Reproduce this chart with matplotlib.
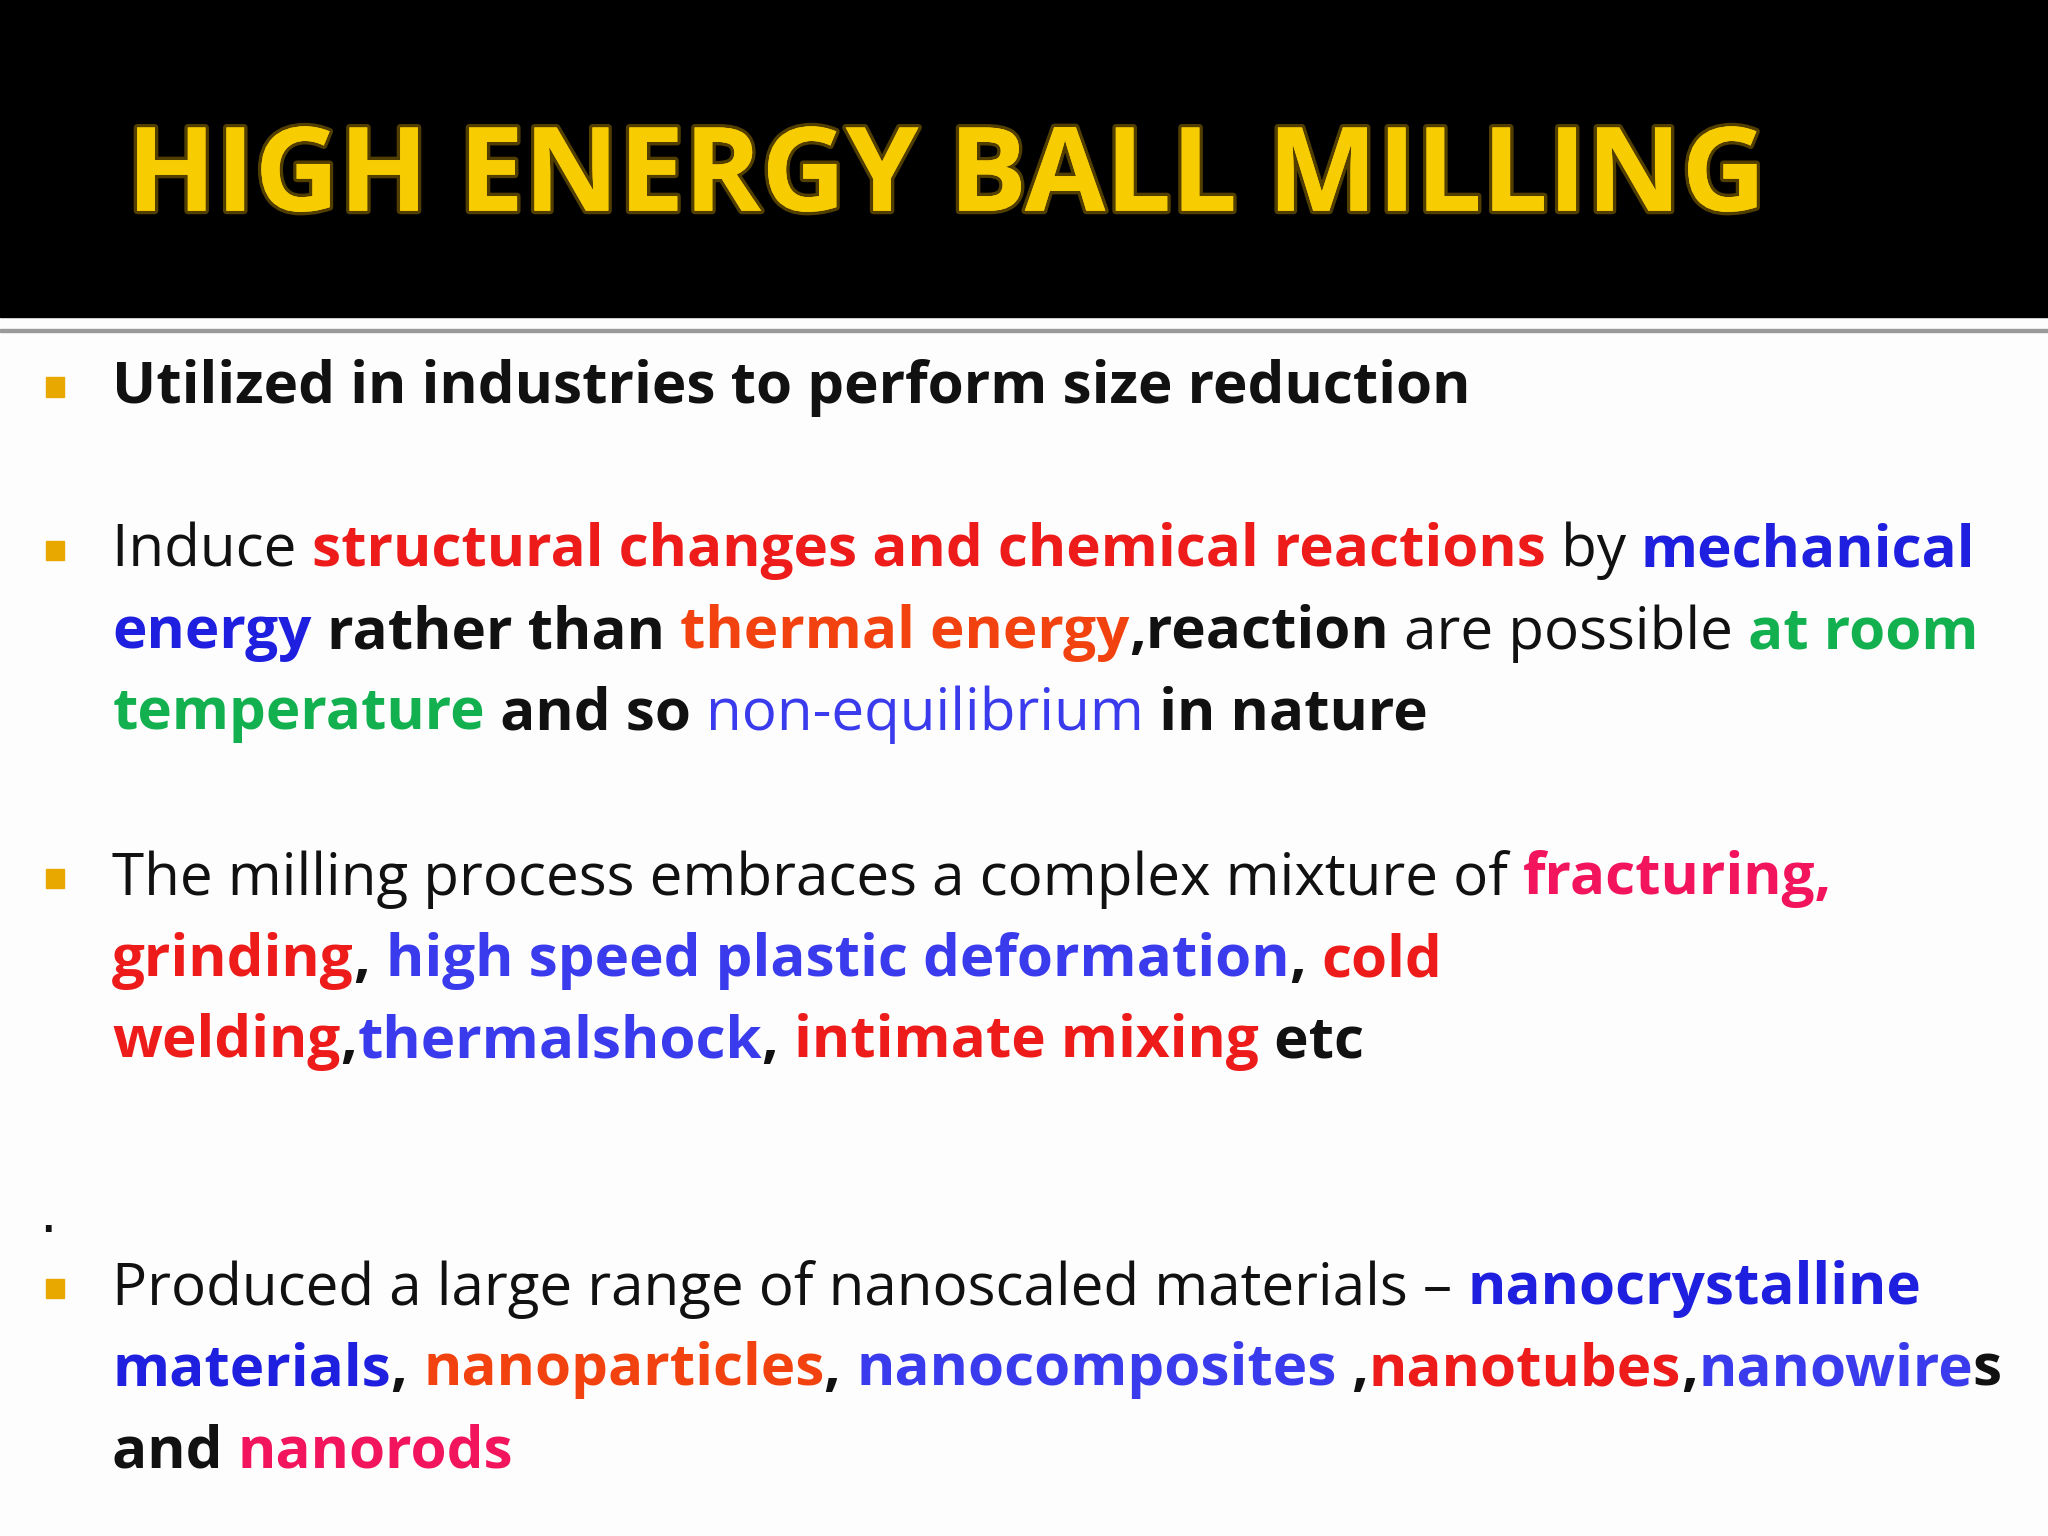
import matplotlib
matplotlib.use('Agg')
import matplotlib.pyplot as plt
import matplotlib.patheffects as pe
from matplotlib.patches import Rectangle

W, H = 2048, 1536
S = W / 1568.0  # reference-pixel scale

RED = '#ee1b1b'
BLUE = '#1f1fe0'
LBLUE = '#3b3bee'
ORANGE = '#f2420f'
GREEN = '#12b04f'
PINK = '#f2145c'
BLACK = '#111111'
B, N = 'bold', 'normal'

title = 'HIGH ENERGY BALL MILLING'

# each line: list of (text, color, weight)
line1 = [('Utilized in industries to perform size reduction', BLACK, B)]
line2 = [('Induce ', BLACK, N), ('structural changes and chemical reactions', RED, B),
         (' by ', BLACK, N), ('mechanical', BLUE, B)]
line3 = [('energy', BLUE, B), (' rather than ', BLACK, B), ('thermal energy', ORANGE, B),
         (',reaction', BLACK, B), (' are possible ', BLACK, N), ('at room', GREEN, B)]
line4 = [('temperature', GREEN, B), (' and so ', BLACK, B), ('non-equilibrium', LBLUE, N),
         (' in nature', BLACK, B)]
line5 = [('The milling process embraces a complex mixture of ', BLACK, N), ('fracturing,', PINK, B)]
line6 = [('grinding', RED, B), (', ', BLACK, B), ('high speed plastic deformation', LBLUE, B),
         (', ', BLACK, B), ('cold', RED, B)]
line7 = [('welding', RED, B), (',', BLACK, B), ('thermalshock', LBLUE, B), (', ', BLACK, B),
         ('intimate mixing', RED, B), (' etc', BLACK, B)]
line8 = [('Produced a large range of nanoscaled materials \u2013 ', BLACK, N), ('nanocrystalline', BLUE, B)]
line9 = [('materials', BLUE, B), (', ', BLACK, B), ('nanoparticles', ORANGE, B), (', ', BLACK, B),
         ('nanocomposites', LBLUE, B), (' ,', BLACK, B), ('nanotubes', RED, B), (',', BLACK, B),
         ('nanowire', LBLUE, B), ('s', BLACK, B)]
line10 = [('and ', BLACK, B), ('nanorods', PINK, B)]

lines = [line1, line2, line3, line4, line5, line6, line7, line8, line9, line10]
line_y = [297, 422, 485, 547, 673, 736, 798, 987, 1049, 1112]  # reference px
bullet_y = [297, 422, 673, 987]

fig = plt.figure(figsize=(W / 100, H / 100), dpi=100)
fig.patch.set_facecolor('#fdfdfd')
ax = fig.add_axes([0, 0, 1, 1])
ax.set_xlim(0, W)
ax.set_ylim(H, 0)
ax.axis('off')

# header
ax.add_patch(Rectangle((0, 0), W, 243 * S, color='black'))
ax.add_patch(Rectangle((0, 252 * S), W, 3, color='#9a9a9a'))
t = ax.text(97 * S, 138 * S, title, fontsize=84, fontweight='bold', family='Open Sans',
            color='#f7cc00', va='center', ha='left')
t.set_path_effects([pe.withStroke(linewidth=5, foreground='#8a6a00', alpha=0.6), pe.Normal()])

fig.canvas.draw()
r = fig.canvas.get_renderer()
inv = ax.transData.inverted()

for y in bullet_y:
    ax.add_patch(Rectangle((35 * S, (y - 8) * S), 14 * S, 15 * S, color='#e8a800'))
ax.text(37 * S, 932 * S, '.', fontsize=40, color=BLACK, ha='center', va='center')

FS = 42
for runs, y in zip(lines, line_y):
    x = 86 * S
    for txt, col, wt in runs:
        t = ax.text(x, y * S, txt, fontsize=FS, fontweight=wt, family='Open Sans',
                    color=col, va='center', ha='left')
        bb = t.get_window_extent(renderer=r)
        x = inv.transform((bb.x1, bb.y0))[0]

fig.savefig('out.png', dpi=100, facecolor=fig.get_facecolor())
